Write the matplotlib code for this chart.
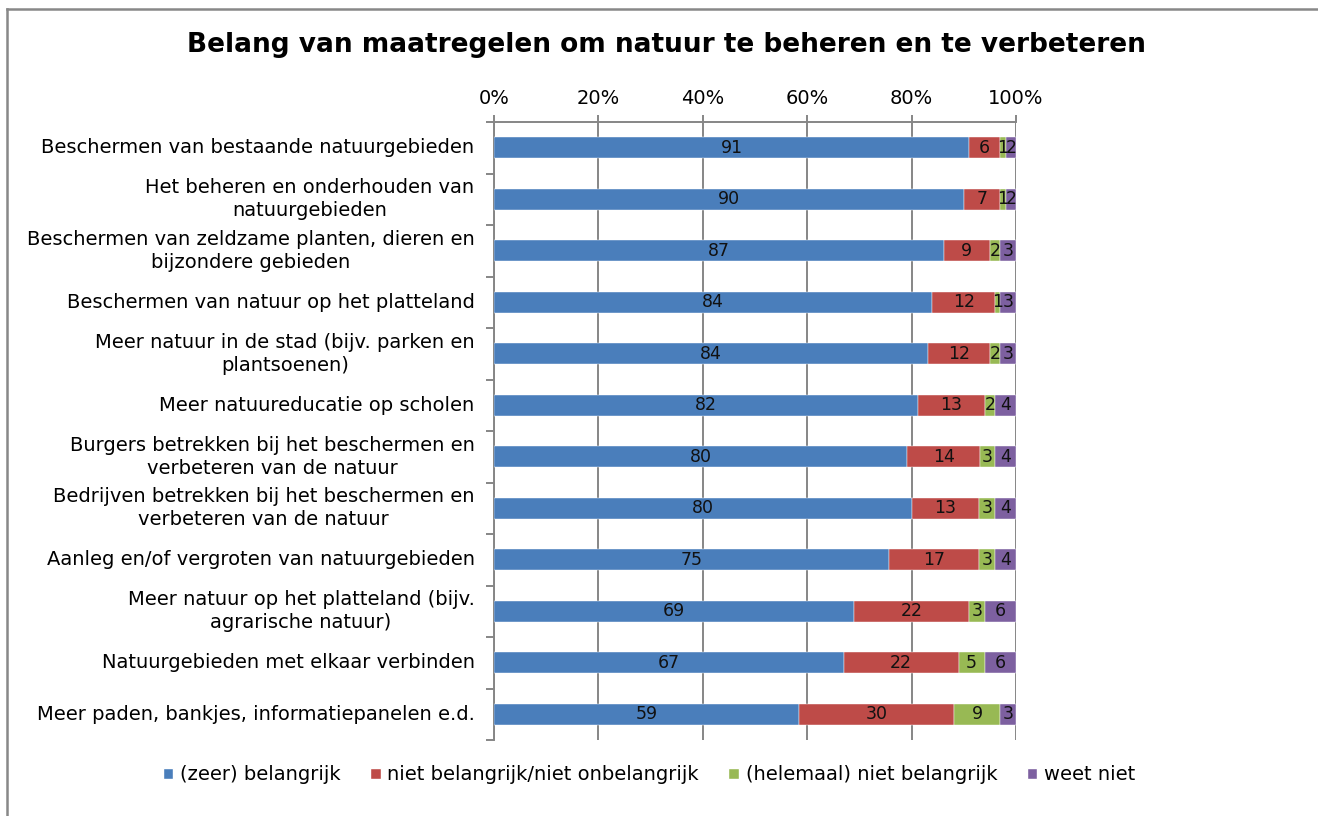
import matplotlib
matplotlib.use("Agg")
import matplotlib.pyplot as plt
from matplotlib.patches import Patch
from matplotlib.lines import Line2D
import numpy as np

categories = [
    "Beschermen van bestaande natuurgebieden",
    "Het beheren en onderhouden van\nnatuurgebieden",
    "Beschermen van zeldzame planten, dieren en\nbijzondere gebieden",
    "Beschermen van natuur op het platteland",
    "Meer natuur in de stad (bijv. parken en\nplantsoenen)",
    "Meer natuureducatie op scholen",
    "Burgers betrekken bij het beschermen en\nverbeteren van de natuur",
    "Bedrijven betrekken bij het beschermen en\nverbeteren van de natuur",
    "Aanleg en/of vergroten van natuurgebieden",
    "Meer natuur op het platteland (bijv.\nagrarische natuur)",
    "Natuurgebieden met elkaar verbinden",
    "Meer paden, bankjes, informatiepanelen e.d.",
]
zeer_belangrijk = [91, 90, 87, 84, 84, 82, 80, 80, 75, 69, 67, 59]
niet_niet = [6, 7, 9, 12, 12, 13, 14, 13, 17, 22, 22, 30]
niet_belangrijk = [1, 1, 2, 1, 2, 2, 3, 3, 3, 3, 5, 9]
weet_niet = [2, 2, 3, 3, 3, 4, 4, 4, 4, 6, 6, 3]
series_names = ["(zeer) belangrijk", "niet belangrijk/niet onbelangrijk",
                "(helemaal) niet belangrijk", "weet niet"]
colors = ["#4A7EBB", "#BE4B48", "#98B954", "#7D60A0"]
xtick_labels = ["0%", "20%", "40%", "60%", "80%", "100%"]

plt.rcParams['font.family'] = ['DejaVu Sans']

W, H = 1318, 816
fig = plt.figure(figsize=(W / 100, H / 100), dpi=100)
ax = fig.add_axes([494 / W, 1 - 740 / H, (1016 - 494) / W, (740 - 122) / H])

data = np.array([zeer_belangrijk, niet_niet, niet_belangrijk, weet_niet], dtype=float)
totals = data.sum(axis=0)
pct = data / totals * 100
y = np.arange(len(categories))
left = np.zeros(len(categories))
for i in range(4):
    ax.barh(y, pct[i], left=left, height=0.4, color=colors[i],
            edgecolor='white', linewidth=0.3, zorder=3)
    for j in range(len(categories)):
        ax.text(left[j] + pct[i][j] / 2, y[j], f"{int(data[i][j])}",
                ha='center', va='center', fontsize=12.5, color='#111111', zorder=4)
    left += pct[i]

ax.set_xlim(0, 100)
ax.set_ylim(len(categories) - 0.5, -0.5)
ax.xaxis.tick_top()
ax.set_xticks(np.arange(0, 101, 20))
ax.set_xticklabels(xtick_labels, fontsize=14)
ax.tick_params(axis='x', direction='out', length=5, width=1.4, color='#868686', pad=5)
ax.grid(axis='x', color='#868686', linewidth=1.4, zorder=0)
ax.set_yticks(y)
ax.set_yticklabels(categories, fontsize=14, linespacing=1.25)
for lab in ax.get_yticklabels():
    lab.set_multialignment('center')
    lab.set_verticalalignment('center')
ax.tick_params(axis='y', which='major', length=0, pad=14)
ax.set_yticks(np.arange(-0.5, len(categories) + 0.5, 1), minor=True)
ax.tick_params(axis='y', which='minor', direction='out', length=6, width=1.4, color='#868686')
for s in ['right', 'bottom']:
    ax.spines[s].set_visible(False)
for s in ['top', 'left']:
    ax.spines[s].set_color('#868686')
    ax.spines[s].set_linewidth(1.4)

fig.text(666 / W, 1 - 45 / H, "Belang van maatregelen om natuur te beheren en te verbeteren",
         ha='center', va='center', fontsize=19, fontweight='bold')

handles = [Patch(facecolor=c, edgecolor='white') for c in colors]
fig.legend(handles, series_names, loc='center', bbox_to_anchor=(649 / W, 1 - 775 / H),
           ncol=4, frameon=False, fontsize=14, handlelength=0.55, handleheight=0.55,
           handletextpad=0.35, columnspacing=1.5)

fig.add_artist(Line2D([7 / W, 7 / W], [0, 1 - 9 / H], transform=fig.transFigure,
                      color='#888888', linewidth=1.8))
fig.add_artist(Line2D([7 / W, 1], [1 - 9 / H, 1 - 9 / H], transform=fig.transFigure,
                      color='#888888', linewidth=1.8))

fig.savefig("out.png", dpi=100, facecolor='white')
